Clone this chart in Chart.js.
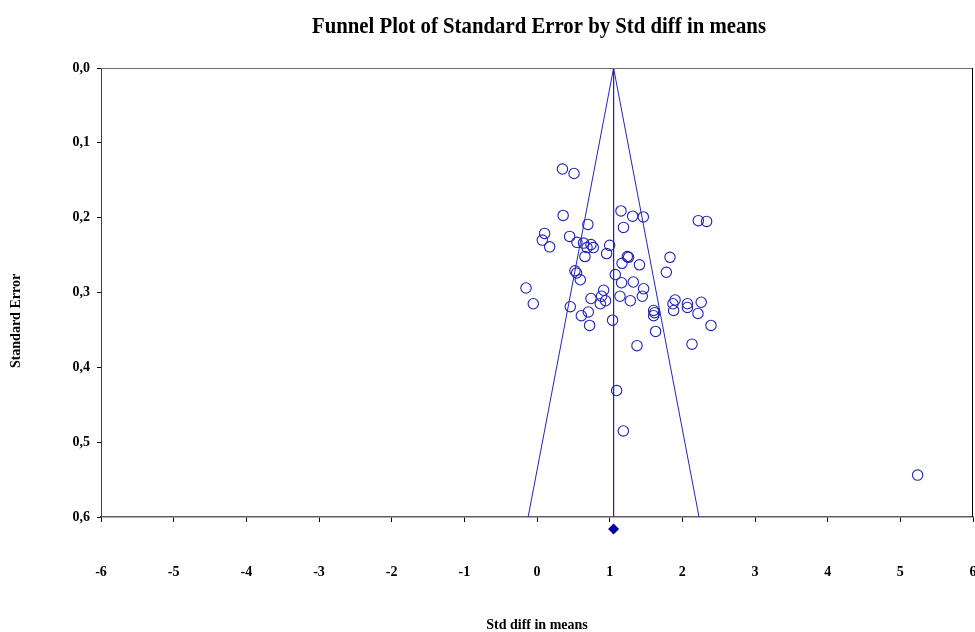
<!DOCTYPE html>
<html>
<head>
<meta charset="utf-8">
<script src="https://cdn.jsdelivr.net/npm/chart.js@4.4.1/dist/chart.umd.min.js"></script>
<style>
  html, body { margin: 0; padding: 0; background: #fff; }
  #wrap { width: 975px; height: 632px; position: relative; }
</style>
</head>
<body>
<div id="wrap"><canvas id="c" width="975" height="632"></canvas></div>
<script>
// ---- data ----
const chartTitle = 'Funnel Plot of Standard Error by Std diff in means';
const xAxisTitle = 'Std diff in means';
const yAxisTitle = 'Standard Error';

const stdDiff = [
  0.35, 0.51, 0.36, 0.70, 1.156, 1.316, 1.463, 1.19, 2.22, 2.334,
  0.105, 0.073, 0.174, 0.449, 0.55, 0.64, 0.743, 0.688, 0.775, 0.66,
  1.00, 0.958, 1.243, 1.26, 1.17, 1.41, 1.83, 1.78, 0.523, 0.545,
  1.077, 0.596, 1.164, 1.325, 1.467, -0.151, -0.051, 0.458, 0.917, 0.889,
  0.743, 0.944, 0.871, 1.142, 1.284, 1.449, 0.706, 0.61, 0.724, 1.04,
  1.605, 1.618, 1.605, 1.632, 1.376, 1.90, 1.871, 1.88, 2.07, 2.07,
  2.26, 2.215, 2.394, 2.133, 1.096, 1.188, 5.238
];
const stdError = [
  0.135, 0.141, 0.197, 0.209, 0.191, 0.198, 0.199, 0.213, 0.204, 0.205,
  0.221, 0.230, 0.239, 0.225, 0.233, 0.234, 0.236, 0.240, 0.240, 0.252,
  0.237, 0.248, 0.252, 0.253, 0.261, 0.263, 0.253, 0.273, 0.271, 0.274,
  0.276, 0.283, 0.287, 0.286, 0.295, 0.294, 0.315, 0.319, 0.297, 0.305,
  0.308, 0.311, 0.315, 0.305, 0.311, 0.305, 0.326, 0.331, 0.344, 0.337,
  0.324, 0.327, 0.331, 0.352, 0.371, 0.310, 0.315, 0.324, 0.315, 0.320,
  0.313, 0.328, 0.344, 0.369, 0.431, 0.485, 0.544
];

const meanEffect = 1.054;      // combined estimate (vertical line / diamond)
const funnelBase = 0.6;        // SE at bottom of the funnel
const funnelLeft = -0.122;     // funnel left edge at SE 0.6
const funnelRight = 2.230;     // funnel right edge at SE 0.6
const diamondSE = 0.616;       // diamond drawn just below the axis

const xTicks = [-6, -5, -4, -3, -2, -1, 0, 1, 2, 3, 4, 5, 6];
const yTicks = [0, 0.1, 0.2, 0.3, 0.4, 0.5, 0.6];
const yTickLabels = ['0,0', '0,1', '0,2', '0,3', '0,4', '0,5', '0,6'];

// ---- chart ----
const BLUE = '#2424b4';
const NAVY = '#000099';
const FONT = '"Liberation Serif", "Times New Roman", serif';

const points = stdDiff.map((v, i) => ({ x: v, y: stdError[i] }));
const noPad = () => ({ left: 0, right: 0, top: 0, bottom: 0 });

const textPlugin = {
  id: 'texts',
  afterDraw(chart) {
    const ctx = chart.ctx;
    const a = chart.chartArea;
    const xs = chart.scales.x, ys = chart.scales.y;
    ctx.save();
    // plot box top and right edges
    ctx.lineWidth = 1;
    ctx.strokeStyle = '#707070';
    ctx.beginPath();
    ctx.moveTo(a.left, a.top + 0.5);
    ctx.lineTo(a.right, a.top + 0.5);
    ctx.stroke();
    ctx.strokeStyle = '#000';
    ctx.beginPath();
    ctx.moveTo(a.right - 0.5, a.top);
    ctx.lineTo(a.right - 0.5, a.bottom);
    ctx.stroke();

    // combined-effect diamond below the axis (positioned through the scales)
    const dx = xs.getPixelForValue(meanEffect);
    const dy = ys.getPixelForValue(diamondSE);
    const r = 5.5;
    ctx.fillStyle = NAVY;
    ctx.beginPath();
    ctx.moveTo(dx, dy - r);
    ctx.lineTo(dx + r, dy);
    ctx.lineTo(dx, dy + r);
    ctx.lineTo(dx - r, dy);
    ctx.closePath();
    ctx.fill();

    ctx.fillStyle = '#000';
    // main title (condensed)
    ctx.font = 'bold 23px ' + FONT;
    ctx.textAlign = 'center';
    ctx.textBaseline = 'alphabetic';
    const w = ctx.measureText(chartTitle).width;
    ctx.save();
    ctx.translate(539, 33);
    ctx.scale(454 / w, 1);
    ctx.fillText(chartTitle, 0, 0);
    ctx.restore();

    // x axis title
    ctx.font = 'bold 14px ' + FONT;
    ctx.fillText(xAxisTitle, 537, 629);

    // y axis title
    ctx.save();
    ctx.translate(20, 321);
    ctx.rotate(-Math.PI / 2);
    ctx.fillText(yAxisTitle, 0, 0);
    ctx.restore();
    ctx.restore();
  }
};

new Chart(document.getElementById('c'), {
  type: 'scatter',
  data: {
    datasets: [
      {
        label: 'Studies',
        data: points,
        pointStyle: 'circle',
        pointRadius: 5.2,
        pointHoverRadius: 5.2,
        borderColor: BLUE,
        backgroundColor: 'rgba(0,0,0,0)',
        pointBorderWidth: 1.1,
        order: 1
      },
      {
        label: 'Funnel',
        data: [
          { x: funnelLeft, y: funnelBase },
          { x: meanEffect, y: 0 },
          { x: funnelRight, y: funnelBase }
        ],
        showLine: true,
        borderColor: BLUE,
        borderWidth: 1,
        pointRadius: 0,
        fill: false,
        order: 2
      },
      {
        label: 'Mean',
        data: [
          { x: meanEffect, y: 0 },
          { x: meanEffect, y: funnelBase }
        ],
        showLine: true,
        borderColor: BLUE,
        borderWidth: 1,
        pointRadius: 0,
        fill: false,
        order: 2
      }
    ]
  },
  options: {
    responsive: false,
    animation: false,
    events: [],
    layout: { autoPadding: false, padding: { top: 68, right: 2, left: 0, bottom: 0 } },
    plugins: {
      legend: { display: false },
      title: { display: false },
      tooltip: { enabled: false }
    },
    scales: {
      x: {
        type: 'linear',
        min: -6,
        max: 6,
        afterBuildTicks(s) { s.ticks = xTicks.map(v => ({ value: v })); },
        afterFit(s) {
          s.height = 115; s.paddingLeft = 0; s.paddingRight = 0;
          s.getPadding = noPad;
        },
        grid: {
          drawOnChartArea: false,
          drawTicks: true,
          tickLength: 5,
          tickColor: '#000',
          tickWidth: 1
        },
        border: { display: true, color: '#606060', width: 1.5 },
        ticks: {
          padding: 42,
          color: '#000',
          maxRotation: 0,
          autoSkip: false,
          font: { family: FONT, size: 14, weight: 'bold' },
          callback: v => String(v)
        },
        title: { display: false }
      },
      y: {
        type: 'linear',
        reverse: true,
        min: 0,
        max: 0.6,
        afterBuildTicks(s) { s.ticks = yTicks.map(v => ({ value: v })); },
        afterFit(s) {
          s.width = 101; s.paddingTop = 0; s.paddingBottom = 0;
          s.getPadding = noPad;
        },
        grid: {
          drawOnChartArea: false,
          drawTicks: true,
          tickLength: 4,
          tickColor: '#000',
          tickWidth: 1
        },
        border: { display: true, color: '#404040', width: 1 },
        ticks: {
          padding: 7,
          color: '#000',
          autoSkip: false,
          font: { family: FONT, size: 14, weight: 'bold' },
          callback: (v, i) => yTickLabels[yTicks.indexOf(Math.round(v * 10) / 10)]
        },
        title: { display: false }
      }
    }
  },
  plugins: [textPlugin]
});
</script>
</body>
</html>
